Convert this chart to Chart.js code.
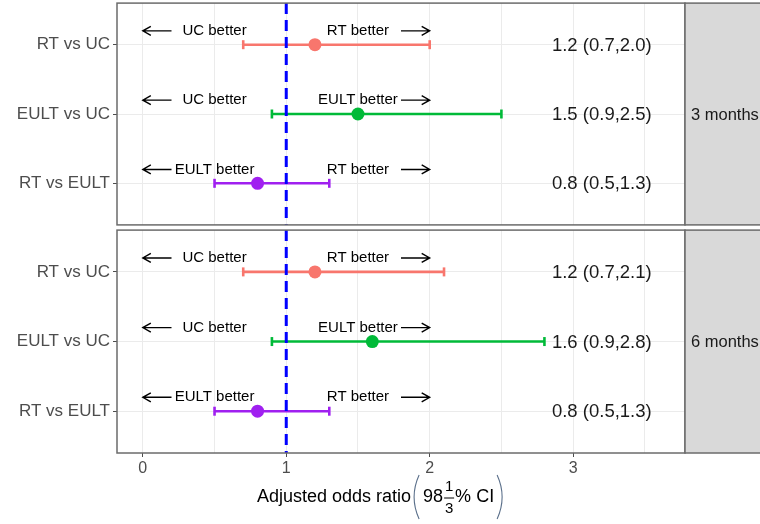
<!DOCTYPE html>
<html>
<head>
<meta charset="utf-8">
<script src="https://cdn.jsdelivr.net/npm/chart.js@4.4.0/dist/chart.umd.min.js"></script>
<style>
  html, body { margin: 0; padding: 0; background: #ffffff; }
  #wrap { position: relative; width: 760px; height: 524px; overflow: hidden; }
  #c1 { position: absolute; left: 0; top: -4px; }
  #c2 { position: absolute; left: 0; top: 223px; }
</style>
</head>
<body>
<div id="wrap">
  <canvas id="c1" width="760" height="236"></canvas>
  <canvas id="c2" width="760" height="301"></canvas>
</div>
<script>
// ---------------- data ----------------
const comparisons = ["RT vs UC", "EULT vs UC", "RT vs EULT"];
const panels = ["3 months", "6 months"];
const colors = ["#F8766D", "#00BA38", "#A020F0"];

const or3 = [1.2, 1.5, 0.8];
const lo3 = [0.7, 0.9, 0.5];
const hi3 = [2.0, 2.5, 1.3];
const lab3 = ["1.2 (0.7,2.0)", "1.5 (0.9,2.5)", "0.8 (0.5,1.3)"];

const or6 = [1.2, 1.6, 0.8];
const lo6 = [0.7, 0.9, 0.5];
const hi6 = [2.1, 2.8, 1.3];
const lab6 = ["1.2 (0.7,2.1)", "1.6 (0.9,2.8)", "0.8 (0.5,1.3)"];

const leftLabels = ["UC better", "UC better", "EULT better"];
const rightLabels = ["RT better", "EULT better", "RT better"];
const xTickLabels = ["0", "1", "2", "3"];
const refLine = 1;
const labelX = 3.2;
const leftTextX = 0.5, rightTextX = 1.5;
const leftArrow = [0.2, 0];
const rightArrow = [1.8, 2.0];
const annoOffset = 0.2;
// --------------------------------------

const FONT = "'Liberation Sans', Arial, sans-serif";
const C2_TOP = 223;

function buildDatasets(or, lo, hi) {
  const ds = [];
  comparisons.forEach((c, i) => {
    ds.push({
      label: c + " CI",
      data: [{x: lo[i], y: i + 1}, {x: hi[i], y: i + 1}],
      borderColor: colors[i],
      backgroundColor: colors[i],
      borderWidth: 2.6,
      showLine: true,
      pointStyle: 'line',
      rotation: 90,
      pointRadius: 4.5,
      pointBorderWidth: 2.6,
      pointBorderColor: colors[i],
      pointHoverRadius: 4.5,
      order: 2
    });
  });
  comparisons.forEach((c, i) => {
    ds.push({
      label: c,
      data: [{x: or[i], y: i + 1}],
      borderColor: colors[i],
      backgroundColor: colors[i],
      showLine: false,
      pointStyle: 'circle',
      pointRadius: 6.5,
      pointBorderWidth: 0,
      pointHoverRadius: 6.5,
      order: 1
    });
  });
  return ds;
}

function drawArrow(ctx, x0, x1, y) {
  ctx.beginPath();
  ctx.moveTo(x0, y);
  ctx.lineTo(x1, y);
  const dir = Math.sign(x1 - x0);
  ctx.moveTo(x1 - dir * 8, y - 4.5);
  ctx.lineTo(x1, y);
  ctx.lineTo(x1 - dir * 8, y + 4.5);
  ctx.stroke();
}

function panelPlugin(stripText, labels) {
  return {
    id: 'panel',
    afterDatasetsDraw(chart) {
      const ctx = chart.ctx;
      const a = chart.chartArea;
      const xs = chart.scales.x, ys = chart.scales.y;
      ctx.save();
      // reference dashed line
      ctx.strokeStyle = '#0000FF';
      ctx.lineWidth = 3;
      ctx.setLineDash([11, 6]);
      ctx.beginPath();
      const rx = xs.getPixelForValue(refLine);
      ctx.moveTo(rx, a.top);
      ctx.lineTo(rx, a.bottom);
      ctx.stroke();
      ctx.setLineDash([]);

      // annotations
      ctx.fillStyle = '#000000';
      ctx.strokeStyle = '#000000';
      ctx.lineWidth = 1.4;
      ctx.font = '15px ' + FONT;
      ctx.textAlign = 'center';
      ctx.textBaseline = 'middle';
      comparisons.forEach((c, i) => {
        const y = ys.getPixelForValue(i + 1 - annoOffset);
        ctx.fillText(leftLabels[i], xs.getPixelForValue(leftTextX), y);
        ctx.fillText(rightLabels[i], xs.getPixelForValue(rightTextX), y);
        drawArrow(ctx, xs.getPixelForValue(leftArrow[0]), xs.getPixelForValue(leftArrow[1]), y);
        drawArrow(ctx, xs.getPixelForValue(rightArrow[0]), xs.getPixelForValue(rightArrow[1]), y);
      });

      // estimate labels
      ctx.fillStyle = '#1A1A1A';
      ctx.font = '18.5px ' + FONT;
      comparisons.forEach((c, i) => {
        ctx.fillText(labels[i], xs.getPixelForValue(labelX), ys.getPixelForValue(i + 1) + 1);
      });

      // panel border
      ctx.strokeStyle = '#6b6b6b';
      ctx.lineWidth = 1.5;
      ctx.strokeRect(a.left, a.top, a.right - a.left, a.bottom - a.top);

      // strip
      ctx.fillStyle = '#D9D9D9';
      ctx.fillRect(a.right, a.top, chart.width - a.right + 2, a.bottom - a.top);
      ctx.strokeRect(a.right, a.top, chart.width - a.right + 10, a.bottom - a.top);
      ctx.fillStyle = '#1A1A1A';
      ctx.font = '16.5px ' + FONT;
      ctx.textAlign = 'left';
      ctx.fillText(stripText, a.right + 6, (a.top + a.bottom) / 2 + 1);
      ctx.restore();
    }
  };
}

function titlePlugin() {
  return {
    id: 'xtitle',
    afterDraw(chart) {
      const ctx = chart.ctx;
      ctx.save();
      const cy = 497 - C2_TOP;
      ctx.fillStyle = '#000000';
      ctx.font = '18px ' + FONT;
      ctx.textBaseline = 'middle';
      ctx.textAlign = 'left';
      const t1 = 'Adjusted odds ratio';
      let x = 257;
      ctx.fillText(t1, x, cy);
      x += ctx.measureText(t1).width;
      // left paren
      ctx.strokeStyle = '#5a6f8a';
      ctx.lineWidth = 1.1;
      ctx.beginPath();
      ctx.moveTo(x + 8, cy - 22);
      ctx.quadraticCurveTo(x - 2, cy, x + 8, cy + 22);
      ctx.stroke();
      x += 12;
      ctx.fillText('98', x, cy);
      x += ctx.measureText('98').width + 1;
      // fraction
      ctx.font = '15px ' + FONT;
      ctx.textAlign = 'center';
      const fx = x + 5;
      ctx.fillText('1', fx, cy - 10);
      ctx.fillText('3', fx, cy + 12);
      ctx.strokeStyle = '#000000';
      ctx.lineWidth = 1;
      ctx.beginPath();
      ctx.moveTo(fx - 5, cy + 1);
      ctx.lineTo(fx + 5, cy + 1);
      ctx.stroke();
      x = fx + 6;
      ctx.font = '18px ' + FONT;
      ctx.textAlign = 'left';
      ctx.fillText('% CI', x, cy);
      x += ctx.measureText('% CI').width + 3;
      ctx.strokeStyle = '#5a6f8a';
      ctx.lineWidth = 1.1;
      ctx.beginPath();
      ctx.moveTo(x, cy - 22);
      ctx.quadraticCurveTo(x + 10, cy, x, cy + 22);
      ctx.stroke();
      ctx.restore();
    }
  };
}

function makeChart(canvasId, or, lo, hi, labels, stripText, showX, padTop, xHeight) {
  const plugins = [panelPlugin(stripText, labels)];
  if (showX) plugins.push(titlePlugin());
  return new Chart(document.getElementById(canvasId), {
    type: 'line',
    data: { datasets: buildDatasets(or, lo, hi) },
    options: {
      responsive: false,
      animation: false,
      devicePixelRatio: 1,
      layout: { padding: { top: padTop, right: 75, bottom: 0, left: 0 } },
      plugins: { legend: { display: false }, tooltip: { enabled: false }, title: { display: false } },
      scales: {
        x: {
          type: 'linear',
          min: -0.18,
          max: 3.78,
          afterBuildTicks(scale) {
            scale.ticks = [0, 0.5, 1, 1.5, 2, 2.5, 3, 3.5].map(v => ({ value: v }));
          },
          afterFit(scale) {
            scale.height = xHeight;
            scale.paddingLeft = 0; scale.paddingRight = 0;
          },
          ticks: {
            display: showX,
            autoSkip: false,
            maxRotation: 0,
            color: '#4D4D4D',
            font: { family: FONT, size: 16 },
            padding: 2,
            callback(v) {
              return Number.isInteger(v) ? xTickLabels[v] : '';
            }
          },
          grid: {
            color: '#EBEBEB',
            lineWidth: 1,
            drawTicks: showX,
            tickLength: 4,
            tickColor(ctx) {
              const v = ctx.tick ? ctx.tick.value : 0;
              return Number.isInteger(v) ? '#4D4D4D' : 'rgba(0,0,0,0)';
            }
          },
          border: { display: false }
        },
        y: {
          type: 'linear',
          reverse: true,
          min: 0.4,
          max: 3.6,
          afterBuildTicks(scale) {
            scale.ticks = [1, 2, 3].map(v => ({ value: v }));
          },
          afterFit(scale) {
            scale.width = 117;
            scale.paddingTop = 0; scale.paddingBottom = 0;
          },
          ticks: {
            color: '#4D4D4D',
            font: { family: FONT, size: 17 },
            padding: 3,
            callback(v) { return comparisons[v - 1]; }
          },
          grid: {
            color: '#EBEBEB',
            lineWidth: 1,
            drawTicks: true,
            tickLength: 4,
            tickColor: '#4D4D4D'
          },
          border: { display: false }
        }
      }
    },
    plugins: plugins
  });
}

makeChart('c1', or3, lo3, hi3, lab3, panels[0], false, 3, 3);
makeChart('c2', or6, lo6, hi6, lab6, panels[1], true, 2, 71);
</script>
</body>
</html>
